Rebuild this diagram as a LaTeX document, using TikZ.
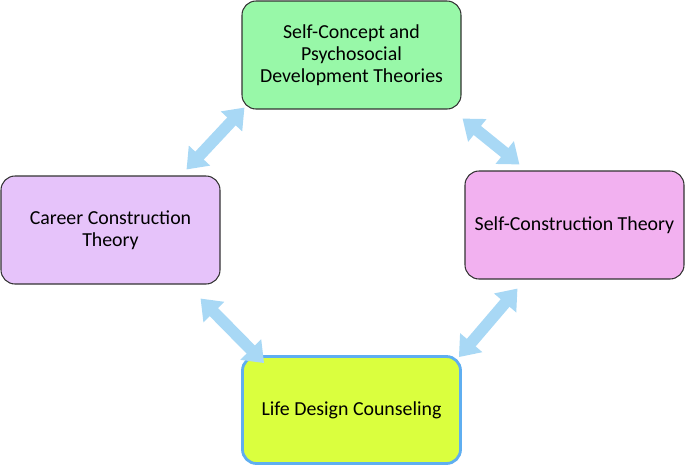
\documentclass[tikz,border=0pt]{standalone}
\usepackage{fontspec}
\setmainfont{Carlito}
\usepackage{tikz}
\usepackage{xcolor}
\usetikzlibrary{positioning, arrows.meta, calc}
\definecolor{mGreen}{HTML}{98F8A8}
\definecolor{mViolet}{HTML}{E6C3FA}
\definecolor{mPink}{HTML}{F2B1F0}
\definecolor{mLime}{HTML}{DAFF3E}
\definecolor{mBlue}{HTML}{5FAEF0}
\definecolor{mSky}{HTML}{A8D8F5}
\definecolor{mEdge}{HTML}{333333}

\begin{document}
\begin{tikzpicture}[
  theory/.style={draw=mEdge, rounded corners=8pt, minimum width=4.38cm,
                 minimum height=2.16cm, align=center, line width=0.6pt,
                 font=\fontsize{11.3}{12.6}\selectfont},
  practice/.style={theory, draw=mBlue, line width=1.6pt, fill=mLime,
                   minimum width=4.36cm, minimum height=2.14cm},
  link/.style={mSky, line width=6.6pt,
               {Triangle[width=0.56cm, length=0.38cm]}-{Triangle[width=0.56cm, length=0.38cm]}},
]
  \useasboundingbox (0,0) rectangle (13.7,-9.34);

  \node[theory, fill=mGreen]  (self)  at ( 7.03,-1.10) {Self-Concept and\\Psychosocial\\Development Theories};
  \node[theory, fill=mViolet] (cct)   at ( 2.21,-4.60) {Career Construction\\Theory};
  \node[theory, fill=mPink]   (sct)   at (11.49,-4.50) {Self-Construction Theory};
  \node[practice]             (ldc)   at ( 7.03,-8.20) {Life Design Counseling};

  \draw[link] ($(self.south west)+(0.06,0.04)$) -- ($(cct.north east)+(-0.68,0.12)$);
  \draw[link] ($(self.south east)+(0.02,-0.18)$) -- ($(sct.north west)+(1.10,0.12)$);
  \draw[link] ($(cct.south east)+(-0.40,-0.28)$) -- ($(ldc.north west)+(0.46,-0.16)$);
  \draw[link] ($(sct.south west)+(1.06,-0.18)$) -- ($(ldc.north east)+(-0.06,-0.04)$);
\end{tikzpicture}
\end{document}
